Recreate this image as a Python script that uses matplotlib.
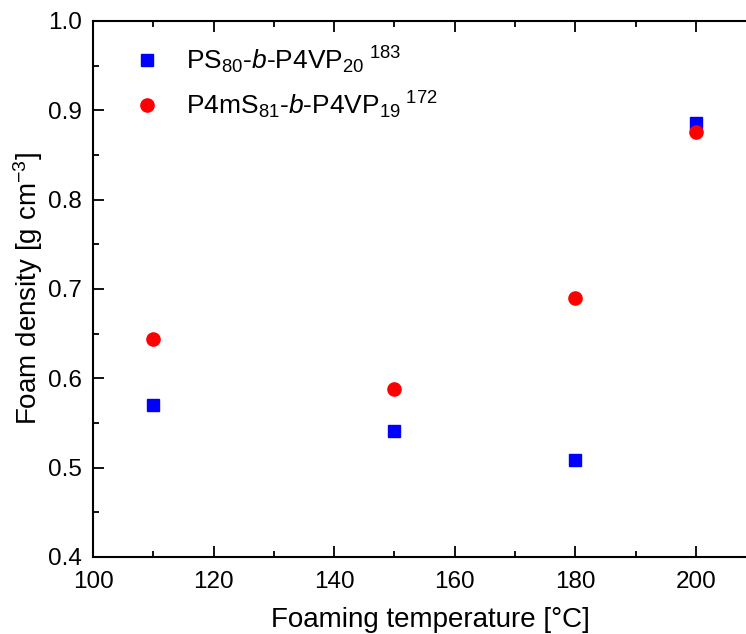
import matplotlib.pyplot as plt
from matplotlib.ticker import MultipleLocator

plt.rcParams['font.family'] = ['Liberation Sans', 'DejaVu Sans']
plt.rcParams['mathtext.fontset'] = 'custom'
plt.rcParams['mathtext.rm'] = 'Liberation Sans'
plt.rcParams['mathtext.it'] = 'Liberation Sans:italic'

temps = [110, 150, 180, 200]
ps_density = [0.570, 0.541, 0.508, 0.886]
p4ms_density = [0.644, 0.588, 0.690, 0.876]
ps_label = r'PS$_{80}$-$\mathit{b}$-P4VP$_{20}$$^{\ 183}$'
p4ms_label = r'P4mS$_{81}$-$\mathit{b}$-P4VP$_{19}$$^{\ 172}$'

fig = plt.figure(figsize=(7.46, 6.34), dpi=100)
# right spine sits just past the picture's edge
ax = fig.add_axes([0.1247, 0.1215, 0.905, 0.8454])

ax.plot(temps, ps_density, 's', color='#0000ff', markersize=8.5, label=ps_label)
ax.plot(temps, p4ms_density, 'o', color='#ff0000', markersize=9.5, label=p4ms_label)

ax.set_xlim(100, 212)
ax.set_ylim(0.4, 1.0)
ax.xaxis.set_major_locator(MultipleLocator(20))
ax.xaxis.set_minor_locator(MultipleLocator(10))
ax.yaxis.set_major_locator(MultipleLocator(0.1))
ax.yaxis.set_minor_locator(MultipleLocator(0.05))
ax.tick_params(which='both', direction='in', top=True, right=False, labelsize=17.5, width=1.3)
ax.tick_params(which='major', length=8)
ax.tick_params(which='minor', length=4)
ax.tick_params(axis='x', pad=10)
ax.tick_params(axis='y', pad=8)
for s in ax.spines.values():
    s.set_linewidth(1.5)

ax.set_xlabel('Foaming temperature [°C]', fontsize=20, labelpad=10)
ax.set_ylabel(r'Foam density [g cm$^{-3}$]', fontsize=20, labelpad=2)

ax.legend(loc='upper left', bbox_to_anchor=(0.01, 0.995), frameon=False, fontsize=19,
          handletextpad=0.45, labelspacing=0.5, borderaxespad=0.4)

fig.savefig('out.png', dpi=100)
